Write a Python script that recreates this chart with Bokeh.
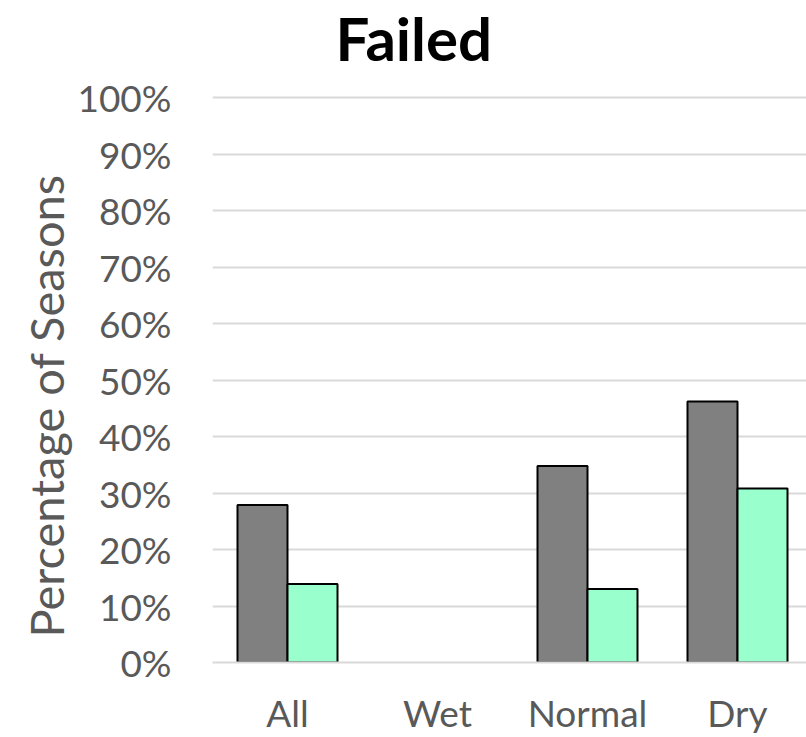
from bokeh.plotting import figure
from bokeh.models import Range1d, FixedTicker, ColumnDataSource, Title, LinearAxis
from bokeh.embed import file_html
from bokeh.resources import INLINE

categories = ["All", "Wet", "Normal", "Dry"]
series_gray = [27.9, 0.0, 34.8, 46.2]
series_mint = [13.9, 0.0, 13.0, 30.8]
y_ticks = [0, 10, 20, 30, 40, 50, 60, 70, 80, 90, 100]
y_labels = ["0%", "10%", "20%", "30%", "40%", "50%", "60%", "70%", "80%", "90%", "100%"]
title_text = "Failed"
y_title = "Percentage of Seasons"

BAR_W = 1.0 / 3.0
centers = [i + 0.5 for i in range(len(categories))]

def bars(vals, shift):
    xs, tops = [], []
    for c, v in zip(centers, vals):
        if v > 0:
            xs.append(c + shift)
            tops.append(v)
    return ColumnDataSource(dict(x=xs, top=tops))

FONT = "Lato"
TXT = "#595959"

p = figure(width=806, height=737, output_backend="svg", toolbar_location=None,
           x_range=Range1d(0, 3.96), y_range=Range1d(0, 100.4),
           min_border_left=212, min_border_right=0, min_border_top=95, min_border_bottom=0)
p.outline_line_color = None
p.background_fill_color = "white"
p.border_fill_color = "white"

p.vbar(x="x", top="top", bottom=0, width=BAR_W, source=bars(series_gray, -BAR_W / 2),
       fill_color="#808080", line_color="black", line_width=2)
p.vbar(x="x", top="top", bottom=0, width=BAR_W, source=bars(series_mint, BAR_W / 2),
       fill_color="#99FFCC", line_color="black", line_width=2)

p.xgrid.grid_line_color = None
p.ygrid.grid_line_color = "#d9d9d9"
p.ygrid.grid_line_width = 2
p.ygrid.ticker = FixedTicker(ticks=y_ticks)

ya = p.yaxis[0]
ya.ticker = FixedTicker(ticks=y_ticks)
ya.major_label_overrides = {t: l for t, l in zip(y_ticks, y_labels)}
ya.axis_line_color = None
ya.major_tick_line_color = None
ya.minor_tick_line_color = None
ya.major_label_text_font = FONT
ya.major_label_text_font_size = "37px"
ya.major_label_text_color = TXT
ya.major_label_standoff = 35

xa = p.xaxis[0]
xa.ticker = FixedTicker(ticks=centers)
xa.major_label_overrides = {c: n for c, n in zip(centers, categories)}
xa.axis_line_color = "#d9d9d9"
xa.axis_line_width = 2
xa.major_tick_line_color = None
xa.minor_tick_line_color = None
xa.major_label_text_font = FONT
xa.major_label_text_font_size = "37px"
xa.major_label_text_color = TXT
xa.major_label_standoff = 21

# invisible spacer axis between the frame and the title
spacer = LinearAxis(ticker=FixedTicker(ticks=[centers[0]]), axis_line_color=None,
                    major_tick_line_color=None, minor_tick_line_color=None,
                    major_tick_in=0, major_tick_out=20, minor_tick_out=0,
                    major_label_standoff=0, major_label_text_font_size="1px",
                    major_label_text_color=None,
                    major_label_overrides={centers[0]: " "})
p.add_layout(spacer, "above")

p.title.text = title_text
p.title.align = "left"
p.title.offset = 123
p.title.vertical_align = "top"
p.title.standoff = 0
p.title.text_font = FONT
p.title.text_font_size = "60px"
p.title.text_font_style = "bold"
p.title.text_color = "black"

ylab = Title(text=y_title, align="left", offset=25, vertical_align="middle", standoff=0,
             text_font=FONT, text_font_size="47px", text_font_style="normal",
             text_color=TXT)
p.add_layout(ylab, "left")

open("out.html", "w").write(file_html(p, INLINE))
